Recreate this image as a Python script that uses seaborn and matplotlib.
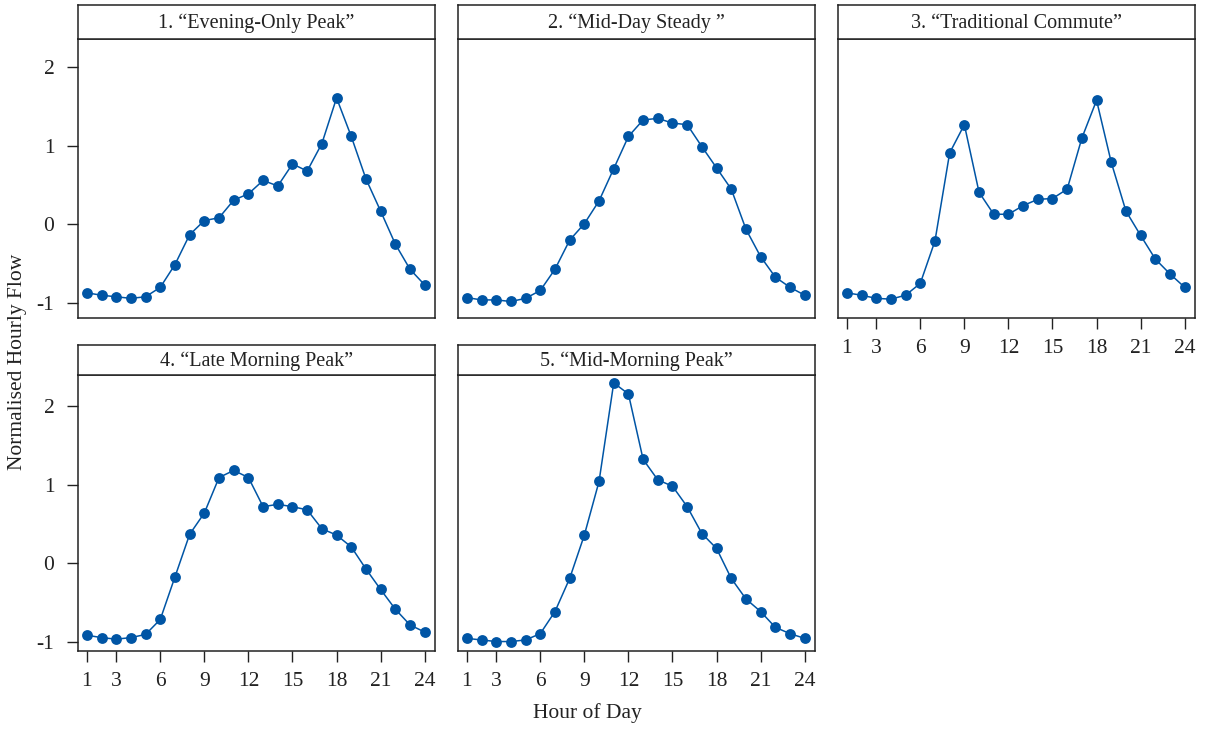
import numpy as np
import pandas as pd
import seaborn as sns
import matplotlib
matplotlib.use("Agg")
import matplotlib.pyplot as plt

# cluster labels (strip titles)
clusters = ["1. \u201cEvening-Only Peak\u201d",
            "2. \u201cMid-Day Steady \u201d",
            "3. \u201cTraditional Commute\u201d",
            "4. \u201cLate Morning Peak\u201d",
            "5. \u201cMid-Morning Peak\u201d"]

hours = list(range(1, 25))

# normalised hourly flow per cluster
evening_only = [-0.87, -0.90, -0.92, -0.94, -0.92, -0.80, -0.51, -0.13, 0.05, 0.085,
                0.31, 0.39, 0.56, 0.49, 0.77, 0.68, 1.03, 1.61, 1.12, 0.58,
                0.17, -0.25, -0.57, -0.77]
mid_day = [-0.93, -0.96, -0.96, -0.98, -0.94, -0.84, -0.57, -0.20, 0.01, 0.30,
           0.71, 1.12, 1.33, 1.35, 1.29, 1.27, 0.99, 0.72, 0.45, -0.06,
           -0.41, -0.67, -0.80, -0.90]
commute = [-0.87, -0.90, -0.94, -0.95, -0.90, -0.75, -0.21, 0.91, 1.27, 0.41,
           0.13, 0.13, 0.24, 0.32, 0.33, 0.45, 1.10, 1.58, 0.79, 0.17,
           -0.14, -0.44, -0.63, -0.80]
late_morning = [-0.91, -0.94, -0.96, -0.94, -0.90, -0.71, -0.17, 0.37, 0.64, 1.09,
                1.18, 1.09, 0.72, 0.75, 0.72, 0.68, 0.44, 0.36, 0.21, -0.07,
                -0.33, -0.58, -0.78, -0.87]
mid_morning = [-0.95, -0.97, -0.99, -0.99, -0.97, -0.89, -0.61, -0.19, 0.36, 1.04,
               2.29, 2.15, 1.32, 1.06, 0.98, 0.72, 0.38, 0.19, -0.19, -0.45,
               -0.61, -0.81, -0.89, -0.95]

x_ticks = [1, 3, 6, 9, 12, 15, 18, 21, 24]
y_ticks = [-1, 0, 1, 2]

series = [evening_only, mid_day, commute, late_morning, mid_morning]
df = pd.concat([pd.DataFrame({"cluster": c, "hour": hours, "flow": v})
                for c, v in zip(clusters, series)], ignore_index=True)

sns.set_style("white")
plt.rcParams["font.family"] = ["Liberation Serif", "DejaVu Serif"]
plt.rcParams["font.size"] = 14

blue = "#0055A5"
ink = "#222222"

g = sns.FacetGrid(df, col="cluster", col_wrap=3, col_order=clusters,
                  sharex=True, sharey=False, height=3, aspect=1.3)
g.map_dataframe(sns.lineplot, x="hour", y="flow", color=blue, marker="o",
                markersize=7.8, markeredgewidth=0, linewidth=1.1)
g.figure.set_size_inches(12.05, 7.29)
g.set_titles("")
g.set_axis_labels("", "")

W, H = 1205.0, 729.0
col_left = [78, 458, 838]
row_top = [39, 375]
row_h = [279, 276]
row_ylim = [(-1.19, 2.36), (-1.11, 2.39)]
strip_h = [34, 30]
ax_w = 357

for i, ax in enumerate(g.axes.flat):
    r, c = divmod(i, 3)
    left = col_left[c]
    top = row_top[r]
    ax.set_position([left / W, 1 - (top + row_h[r]) / H, ax_w / W, row_h[r] / H])
    ax.set_xlim(0.4, 24.7)
    ax.set_ylim(*row_ylim[r])
    ax.set_xticks(x_ticks)
    ax.set_yticks(y_ticks)
    ax.set_yticklabels([str(t) for t in y_ticks])
    ax.tick_params(direction="out", length=8, width=1, color=ink, labelcolor=ink,
                   labelsize=15.5, left=(c == 0), labelleft=(c == 0),
                   bottom=(i >= 2), labelbottom=(i >= 2))
    ax.tick_params(axis="y", pad=9)
    ax.tick_params(axis="x", pad=7)
    for s in ax.spines.values():
        s.set_visible(True)
        s.set_color(ink)
        s.set_linewidth(1.1)
    # strip box above panel
    sax = g.figure.add_axes([left / W, 1 - top / H, ax_w / W, strip_h[r] / H])
    sax.set_xticks([])
    sax.set_yticks([])
    for s in sax.spines.values():
        s.set_color(ink)
        s.set_linewidth(1.1)
    sax.text(0.5, 0.47, clusters[i], ha="center", va="center", fontsize=14.5,
             transform=sax.transAxes, color=ink)

g.figure.text(18 / W, 1 - 362 / H, "Normalised Hourly Flow", rotation=90,
              ha="center", va="center", fontsize=15.5, color=ink)
g.figure.text(587 / W, 1 - 713 / H, "Hour of Day", ha="center", va="center",
              fontsize=15.5, color=ink)

g.figure.savefig("out.png", dpi=100)
